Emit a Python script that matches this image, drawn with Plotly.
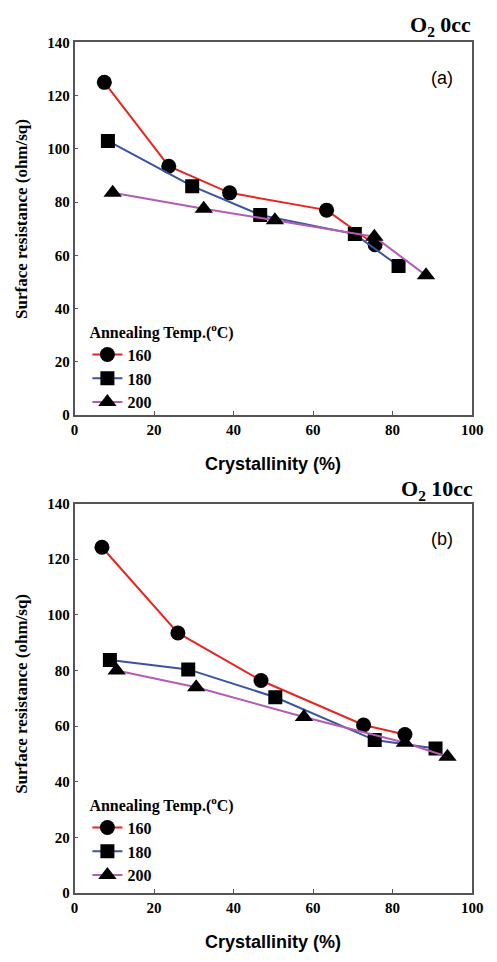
import plotly.graph_objects as go

# Panel (a): O2 0cc
a160_x = [7.5, 23.7, 39.0, 63.4, 75.6]
a160_y = [125.0, 93.5, 83.5, 77.0, 64.0]
a180_x = [8.4, 29.6, 46.7, 70.5, 81.5]
a180_y = [103.0, 86.0, 75.2, 68.0, 56.0]
a200_x = [9.6, 32.5, 50.4, 75.4, 88.4]
a200_y = [83.5, 77.5, 73.2, 67.0, 52.5]

# Panel (b): O2 10cc
b160_x = [6.9, 26.0, 46.9, 72.7, 83.1]
b160_y = [124.3, 93.5, 76.4, 60.4, 57.0]
b180_x = [8.9, 28.6, 50.5, 75.5, 90.8]
b180_y = [83.8, 80.4, 70.4, 55.0, 52.0]
b200_x = [10.6, 30.6, 57.7, 83.1, 93.8]
b200_y = [80.0, 74.0, 63.3, 54.0, 49.0]

labels = ["160", "180", "200"]
x_ticks = [0, 20, 40, 60, 80, 100]
y_ticks = [0, 20, 40, 60, 80, 100, 120, 140]

colors = ["#e8261f", "#3b52a6", "#b35bb5"]
symbols = ["circle", "square", "triangle-up"]
sizes = [15, 14, 16]

serif = "Liberation Serif"
sans = "Liberation Sans"

fig = go.Figure()

panels = [
    ("x", "y", "legend", [(a160_x, a160_y), (a180_x, a180_y), (a200_x, a200_y)]),
    ("x2", "y2", "legend2", [(b160_x, b160_y), (b180_x, b180_y), (b200_x, b200_y)]),
]
for xa, ya, leg, series in panels:
    for i, (xs, ys) in enumerate(series):
        fig.add_trace(go.Scatter(
            x=xs, y=ys, xaxis=xa, yaxis=ya, legend=leg,
            mode="lines+markers", name="<b>%s</b>" % labels[i],
            line=dict(color=colors[i], width=2),
            marker=dict(symbol=symbols[i], size=sizes[i], color="black"),
        ))

W, H = 497, 962
def py(px):
    return 1 - px / H

xdom = [72.7 / W, 482.7 / W]
axis_common = dict(
    showline=True, linecolor="#555555", linewidth=1.5, mirror=True,
    ticks="inside", ticklen=4, tickcolor="#555555", tickwidth=1,
    showgrid=False, zeroline=False,
    tickfont=dict(family=serif, size=15, color="black"),
)
xt = dict(range=[0, 100], tickvals=x_ticks, ticktext=["<b>%d</b>" % v for v in x_ticks])
yt = dict(range=[0, 140], tickvals=y_ticks, ticktext=["<b>%d</b>" % v for v in y_ticks])

legend_common = dict(
    xanchor="left", yanchor="top", bgcolor="rgba(0,0,0,0)",
    title=dict(text="<b>Annealing Temp.(<sup>o</sup>C)</b>", font=dict(family=serif, size=16, color="black")),
    font=dict(family=serif, size=16, color="black"),
    tracegroupgap=0, itemsizing="trace",
)

fig.update_layout(
    width=W, height=H, margin=dict(l=0, r=0, t=0, b=0),
    paper_bgcolor="white", plot_bgcolor="white",
    xaxis=dict(domain=xdom, anchor="y", **xt, **axis_common),
    yaxis=dict(domain=[py(414), py(35)], anchor="x", **yt, **axis_common),
    xaxis2=dict(domain=xdom, anchor="y2", **xt, **axis_common),
    yaxis2=dict(domain=[py(900), py(504)], anchor="x2", **yt, **axis_common),
    legend=dict(x=86 / W, y=py(314), **legend_common),
    legend2=dict(x=86 / W, y=py(795), **legend_common),
)

annotations = [
    dict(text="<b>O<sub>2</sub> 0cc</b>", x=484 / W, y=py(18), xanchor="right", yanchor="middle",
         font=dict(family=serif, size=22, color="black")),
    dict(text="<b>O<sub>2</sub> 10cc</b>", x=486 / W, y=py(490), xanchor="right", yanchor="middle",
         font=dict(family=serif, size=22, color="black")),
    dict(text="(a)", x=452 / W, y=py(71), xanchor="center", yanchor="middle",
         font=dict(family=sans, size=18, color="black")),
    dict(text="(b)", x=452 / W, y=py(540), xanchor="center", yanchor="middle",
         font=dict(family=sans, size=18, color="black")),
    dict(text="<b>Crystallinity (%)</b>", x=277 / W, y=py(464), xanchor="center", yanchor="middle",
         font=dict(family=sans, size=18, color="black")),
    dict(text="<b>Crystallinity (%)</b>", x=277 / W, y=py(950), xanchor="center", yanchor="middle",
         font=dict(family=sans, size=18, color="black")),
    dict(text="<b>Surface resistance (ohm/sq)</b>", x=18 / W, y=py(214), xanchor="center", yanchor="middle",
         textangle=-90, font=dict(family=serif, size=17, color="black")),
    dict(text="<b>Surface resistance (ohm/sq)</b>", x=18 / W, y=py(697), xanchor="center", yanchor="middle",
         textangle=-90, font=dict(family=serif, size=17, color="black")),
]
for an in annotations:
    fig.add_annotation(xref="paper", yref="paper", showarrow=False, **an)

fig.write_html("out.html")
